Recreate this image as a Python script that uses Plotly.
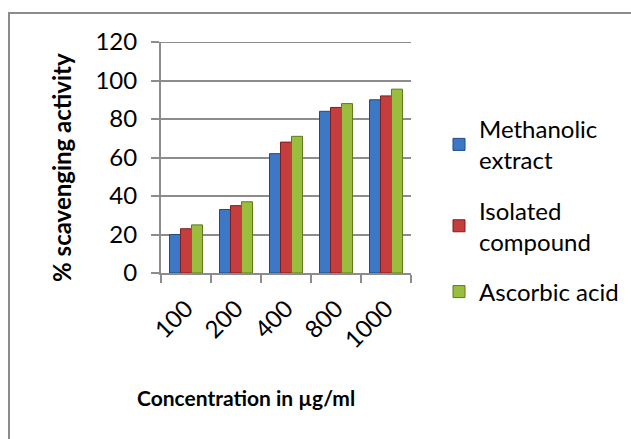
import plotly.graph_objects as go

# Concentration levels (µg/ml) and % scavenging activity per sample
concentrations = ["100", "200", "400", "800", "1000"]
methanolic_extract = [20, 33, 62, 84, 90]
isolated_compound = [23, 35, 68, 86, 92]
ascorbic_acid = [25, 37, 71, 88, 95.5]

series = [
    ("Methanolic<br>extract", methanolic_extract, "#3d78c6", "#1f4a86"),
    ("Isolated<br>compound", isolated_compound, "#c63d3d", "#7e1f1f"),
    ("Ascorbic acid", ascorbic_acid, "#9bbd3d", "#5d7a1c"),
]

fig = go.Figure()
for i, (name, vals, fill, edge) in enumerate(series):
    fig.add_trace(go.Bar(
        x=concentrations, y=vals, name=name,
        marker=dict(color=fill, line=dict(color=edge, width=1)),
        legendgroup=f"g{i}",
    ))

FONT = "Lato, Carlito, Calibri, sans-serif"
GRID = "#8c8c8c"

fig.update_layout(
    width=631, height=439,
    margin=dict(l=161, r=220, t=42, b=166, autoexpand=False),
    paper_bgcolor="white", plot_bgcolor="white",
    barmode="group", bargap=0.34, bargroupgap=0,
    font=dict(family=FONT, size=24, color="black"),
    showlegend=True,
    legend=dict(
        x=1.112, y=0.72, xanchor="left", yanchor="top",
        font=dict(family=FONT, size=24, color="black"),
        tracegroupgap=16, itemwidth=30,
        bgcolor="rgba(0,0,0,0)",
    ),
)

fig.update_xaxes(
    type="category", automargin=False,
    showline=True, linecolor=GRID, linewidth=2,
    ticks="outside", tickson="boundaries", ticklen=8, tickcolor=GRID, tickwidth=2,
    tickangle=-45, showgrid=False, ticklabelstandoff=10,
    tickfont=dict(family=FONT, size=24, color="black"),
)
fig.update_yaxes(
    range=[0, 120], dtick=20, automargin=False,
    showline=True, linecolor=GRID, linewidth=2,
    ticks="outside", ticklen=8, tickcolor=GRID, tickwidth=2,
    showgrid=True, gridcolor=GRID, gridwidth=2,
    zeroline=False, ticklabelstandoff=9,
    tickfont=dict(family=FONT, size=24, color="black"),
)

# Gridline at the top of the value range
fig.add_shape(
    type="line", xref="paper", yref="y", x0=0, x1=1, y0=120, y1=120,
    line=dict(color=GRID, width=2), layer="below",
)

# Axis titles
fig.add_annotation(
    text="<b>% scavenging activity</b>", textangle=-90,
    xref="paper", yref="paper", x=-0.396, y=0.455,
    xanchor="center", yanchor="middle",
    showarrow=False, font=dict(family=FONT, size=24, color="black"),
)
fig.add_annotation(
    text="<b>Concentration in µg/ml</b>",
    xref="paper", yref="paper", x=0.34, y=-0.537,
    xanchor="center", yanchor="middle",
    showarrow=False, font=dict(family=FONT, size=21, color="black"),
)

# Chart frame
fig.add_shape(
    type="rect", xref="paper", yref="paper",
    x0=-0.608, x1=1.95, y0=-0.78, y1=1.1255,
    line=dict(color=GRID, width=2), fillcolor="rgba(0,0,0,0)", layer="below",
)

fig.write_html("out.html")
